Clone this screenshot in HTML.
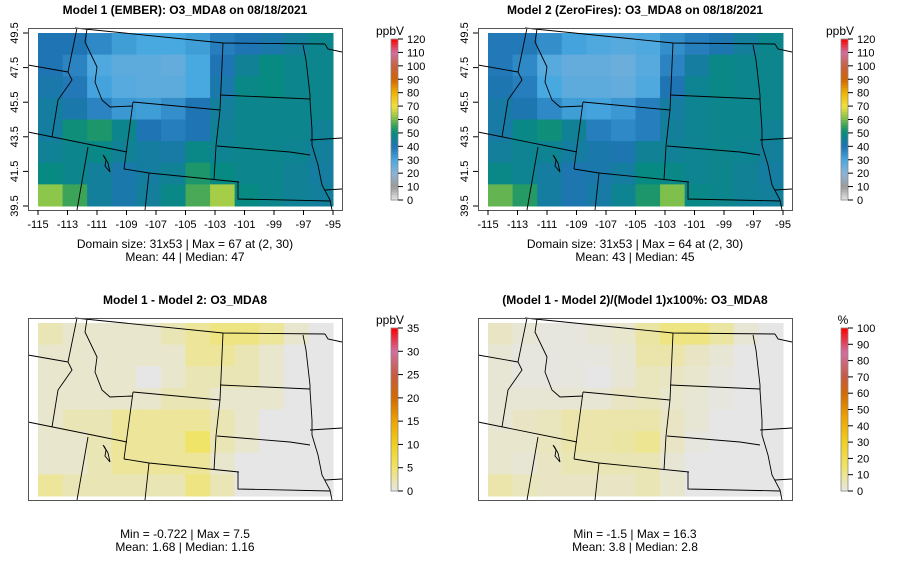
<!DOCTYPE html>
<html><head><meta charset="utf-8"><style>
body{margin:0;background:#fff;}
svg{display:block;font-family:"Liberation Sans",sans-serif;}
</style></head><body>
<svg id="chart" width="900" height="579" viewBox="0 0 900 579"></svg>
<script>
// ---- data ----
const lonTicks = [-115,-113,-111,-109,-107,-105,-103,-101,-99,-97,-95];
const latTicks = [49.5,47.5,45.5,43.5,41.5,39.5];
const ppbTicks = [0,10,20,30,40,50,60,70,80,90,100,110,120];
const diffTicks = [0,5,10,15,20,25,30,35];
const pctTicks = [0,10,20,30,40,50,60,70,80,90,100];
// grids: rows north->south, cols west->east
const model1Grid = [
 [40,40,36,32,30,30,32,38,40,42,45,48],
 [40,37,29,27,27,26,30,40,46,50,48,48],
 [42,39,31,28,27,27,30,42,49,50,48,48],
 [44,42,37,33,32,35,40,45,48,48,48,48],
 [44,51,53,48,40,38,40,46,48,48,48,46],
 [46,48,49,46,44,43,49,47,48,48,47,45],
 [50,48,45,42,44,46,53,50,48,48,46,44],
 [62,56,45,42,45,49,57,64,50,48,46,45]];
const model2Grid = [
 [39,39,35,31,29,28,29,35,38,41,45,48],
 [39,36,28,26,26,25,28,37,44,49,48,48],
 [41,38,30,27,27,26,29,40,47,49,48,48],
 [43,41,36,32,31,33,38,44,47,48,48,48],
 [43,49,51,46,38,36,38,45,47,48,48,46],
 [45,47,47,44,42,41,46,46,47,48,47,45],
 [49,47,44,41,42,44,50,49,47,48,46,44],
 [59,54,44,41,43,47,53,61,49,48,46,45]];
const diffGrid = [
 [2,1,1,1,1,2,3,4,4,3,1,0],
 [1,1,1,1,1,1,3,3,2,1,0,0],
 [1,1,1,1,0,1,2,2,2,1,0,0],
 [1,1,1,1,1,2,2,1,1,1,0,0],
 [1,2,2,3,3,3,3,2,1,0,0,0],
 [1,1,2,3,3,3,5,2,1,0,0,0],
 [1,1,2,3,3,3,3,1,0,0,0,0],
 [3,2,2,2,2,2,4,2,0,0,0,0]];
const pctGrid = [
 [4,2,1,1,2,3,8,12,12,8,2,0],
 [2,1,1,1,1,2,7,7,4,2,0,0],
 [2,1,1,1,0,2,5,4,3,1,0,0],
 [2,2,2,2,2,4,5,3,2,1,0,0],
 [2,4,5,7,7,7,7,4,2,0,0,0],
 [3,3,5,7,7,8,10,4,1,0,0,0],
 [3,2,4,6,6,6,6,2,0,0,0,0],
 [7,5,4,4,4,4,6,3,0,0,0,0]];

// ---- colour scales ----
const ppbStops=[[0,"#e8e8e8"],[10,"#9a9a9a"],[20,"#8db3d6"],[30,"#48a8e0"],[40,"#1f74b4"],[50,"#078a82"],[55,"#2e9e5c"],[62,"#8cc64a"],[70,"#f0e040"],[80,"#f0b400"],[90,"#d46400"],[100,"#c8603c"],[110,"#d070a0"],[120,"#ff0000"]];
const diffStops=[[0,"#e6e6e6"],[5,"#f0e468"],[10,"#f0d020"],[15,"#eea400"],[20,"#d46a00"],[25,"#c85a40"],[30,"#d070a0"],[35,"#ff0000"]];
const pctStops=[[0,"#e6e6e6"],[15,"#f0e468"],[30,"#f0d020"],[45,"#eea400"],[60,"#d46a00"],[70,"#c85a40"],[85,"#d070a0"],[100,"#ff0000"]];
function hx(c){return [1,3,5].map(i=>parseInt(c.substr(i,2),16));}
function scale(stops,v){
 if(v<=stops[0][0])return stops[0][1];
 for(let i=1;i<stops.length;i++){if(v<=stops[i][0]){const a=stops[i-1],b=stops[i],t=(v-a[0])/(b[0]-a[0]);const ca=hx(a[1]),cb=hx(b[1]);return "rgb("+ca.map((x,k)=>Math.round(x+(cb[k]-x)*t)).join(",")+")";}}
 return stops[stops.length-1][1];
}
const NS="http://www.w3.org/2000/svg",svg=document.getElementById("chart");
function el(tag,attrs,parent){const e=document.createElementNS(NS,tag);for(const k in attrs)e.setAttribute(k,attrs[k]);(parent||svg).appendChild(e);return e;}
function txt(x,y,s,attrs,parent){const t=el("text",Object.assign({x:x,y:y,"font-size":12,"text-anchor":"middle",fill:"#000"},attrs),parent);t.textContent=s;return t;}

// axis functions (panel-local)
const xL=x=>38+(x+115)/20*295;
const yL=y=>33+(49.5-y)/10*173;

const borders=[
 [[75,28],[223,43],[325,44]],
 [[325,44],[328,49],[342,52]],
 [[303,45],[306,60],[310,95],[310,100],[312,130],[312,145],[318,165],[322,185],[330,200],[332,210]],
 [[223,43],[220,110],[216,146],[214,180]],
 [[220,95],[310,99]],
 [[217,146],[290,152],[310,155]],
 [[238,182],[238,199],[330,201]],
 [[124,169],[149,173],[239,182]],
 [[149,173],[145,210]],
 [[133,102],[220,110]],
 [[133,102],[124,169]],
 [[87,29],[85,42],[97,67],[95,82],[102,100],[110,107],[133,106]],
 [[77,28],[68,72],[72,80],[58,100],[52,137]],
 [[28,65],[68,72]],
 [[28,132],[127,152]],
 [[88,147],[77,210]],
 [[310,140],[342,138]],
 [[325,190],[342,189]],
 [[103,155],[106,160],[105,166],[110,172],[108,163],[104,156]]
];

function panel(id,ox,oy,title,grid,stops,ticks,vmax,unit,foot1,foot2,axes){
 const g=el("g",{transform:`translate(${ox},${oy})`});
 
 
 const t=txt(185,14,title,{"font-weight":"bold"},g);
 
 
 const rows=grid.length,cols=grid[0].length;
 const cw=(xL(-95)-xL(-115))/cols,ch=(yL(39.5)-yL(49.5))/rows;
 for(let r=0;r<rows;r++)for(let c=0;c<cols;c++){
  const rc=el("rect",{x:xL(-115)+c*cw,y:yL(49.5)+r*ch,width:cw+0.5,height:ch+0.5,fill:scale(stops,grid[r][c])},g);
  
  
 }
 borders.forEach(b=>{const p=el("polyline",{points:b.map(q=>q.join(",")).join(" "),fill:"none",stroke:"#000","stroke-width":0.9},g);
  
  });
 const box=el("rect",{x:28.5,y:28.5,width:314,height:182,fill:"none",stroke:"#555","stroke-width":1},g);
 
 
 if(axes){
  lonTicks.forEach(v=>{el("line",{x1:xL(v),x2:xL(v),y1:210,y2:215,stroke:"#000"},g);
   const l=txt(xL(v),228,String(v),{"font-size":11},g);
   
   });
  latTicks.forEach(v=>{el("line",{x1:23,x2:28,y1:yL(v),y2:yL(v),stroke:"#000"},g);
   const l=txt(0,0,v.toFixed(1),{"font-size":11,transform:`translate(18,${yL(v)}) rotate(-90)`},g);
   
   });
 }
 const f1=txt(185,foot2?248:0,foot1,{},g);
 
 
 if(foot2){const f2=txt(185,261,foot2,{},g);
  
  }
 // colorbar
 const cbTop=oy===0?39:38, cbBot=oy===0?200:201;
 const cy=v=>cbBot-(v/vmax)*(cbBot-cbTop);
 const n=60;
 for(let i=0;i<n;i++){const v0=vmax*i/n,v1=vmax*(i+1)/n;
  const s=el("rect",{x:391,y:cy(v1),width:7,height:cy(v0)-cy(v1)+0.5,fill:scale(stops,(v0+v1)/2)},g);
  
  }
 el("rect",{x:391,y:cbTop,width:7,height:cbBot-cbTop,fill:"none",stroke:"#888","stroke-width":0.8},g);
 ticks.forEach(v=>{el("line",{x1:398,x2:403,y1:cy(v),y2:cy(v),stroke:"#000"},g);
  const l=txt(407,cy(v)+4,String(v),{"text-anchor":"start","font-size":11},g);
  
  });
 const u=txt(unit==="%"?393:390,cbTop-4,unit,{},g);
 
 
}
panel("model1-panel",0,0,"Model 1 (EMBER): O3_MDA8 on 08/18/2021",model1Grid,ppbStops,ppbTicks,120,"ppbV","Domain size: 31x53 | Max = 67 at (2, 30)","Mean: 44 |  Median: 47",true);
panel("model2-panel",450,0,"Model 2 (ZeroFires): O3_MDA8 on 08/18/2021",model2Grid,ppbStops,ppbTicks,120,"ppbV","Domain size: 31x53 | Max = 64 at (2, 30)","Mean: 43 |  Median: 45",true);
panel("diff-panel",0,290,"Model 1 - Model 2: O3_MDA8",diffGrid,diffStops,diffTicks,35,"ppbV","Min = -0.722 | Max = 7.5","Mean: 1.68 |  Median: 1.16",false);
panel("pct-panel",450,290,"(Model 1 - Model 2)/(Model 1)x100%: O3_MDA8",pctGrid,pctStops,pctTicks,100,"%","Min = -1.5 | Max = 16.3","Mean: 3.8 |  Median: 2.8",false);
</script>
</body></html>
